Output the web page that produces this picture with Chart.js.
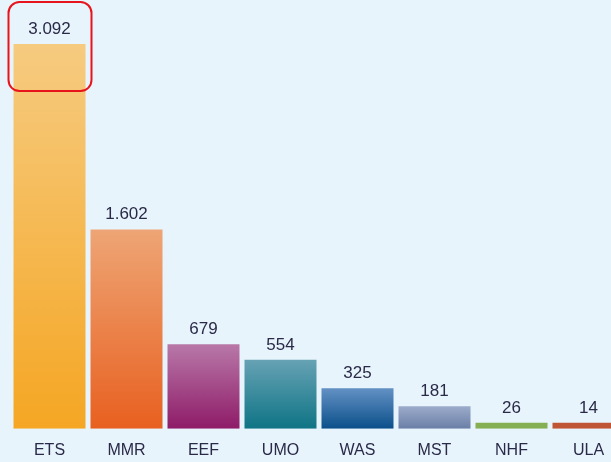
<!DOCTYPE html>
<html>
<head>
<meta charset="utf-8">
<script src="https://cdn.jsdelivr.net/npm/chart.js@4"></script>
<style>
  html, body { margin: 0; padding: 0; background: #E8F4FC; overflow: hidden; height: 462px; }
  #wrap { width: 627px; height: 472px; position: relative; }
</style>
</head>
<body>
<div id="wrap"><canvas id="barChart"></canvas></div>
<script>
const categories = ['ETS', 'MMR', 'EEF', 'UMO', 'WAS', 'MST', 'NHF', 'ULA'];
const values = [3092, 1602, 679, 554, 325, 181, 26, 14];
// top / bottom colours of each bar's gradient
const topColors = ['#F6CB80', '#EEA575', '#B878A8', '#66A2B4', '#6391C4', '#9CABCA', '#98BE68', '#C96A4C'];
const bottomColors = ['#F5A623', '#E86020', '#8E1B68', '#0E7485', '#0A4F8A', '#6A7FA6', '#86AE52', '#BF5535'];

const ctx = document.getElementById('barChart').getContext('2d');

function gradientFor(context) {
    const chart = context.chart;
    const yScale = chart.scales.y;
    const i = context.dataIndex;
    if (!chart.chartArea || !yScale) return bottomColors[i];
    const top = yScale.getPixelForValue(values[i]);
    const base = yScale.getPixelForValue(0);
    if (!isFinite(top) || !isFinite(base) || base - top < 10) return bottomColors[i];
    const g = chart.ctx.createLinearGradient(0, top, 0, base);
    g.addColorStop(0, topColors[i]);
    g.addColorStop(1, bottomColors[i]);
    return g;
}

// value labels above the bars + red highlight box around the first one
const valueLabels = {
    id: 'valueLabels',
    afterDatasetsDraw(chart) {
        const c = chart.ctx;
        const meta = chart.getDatasetMeta(0);
        c.save();
        c.font = '17px "Liberation Sans", Arial, sans-serif';
        c.fillStyle = '#2A2A48';
        c.textAlign = 'center';
        c.textBaseline = 'alphabetic';
        meta.data.forEach((bar, i) => {
            c.fillText(values[i].toLocaleString('de-DE'), bar.x, bar.y - 10);
        });
        // highlight box
        const b = meta.data[0];
        const x0 = b.x - b.width / 2 - 5, x1 = b.x + b.width / 2 + 6;
        const y0 = b.y - 42, y1 = b.y + 47;
        c.strokeStyle = '#E8141C';
        c.lineWidth = 2;
        c.beginPath();
        c.roundRect(x0, y0, x1 - x0, y1 - y0, 11);
        c.stroke();
        c.restore();
    }
};

new Chart(ctx, {
    type: 'bar',
    data: {
        labels: categories,
        datasets: [{
            data: values,
            backgroundColor: gradientFor,
            borderWidth: 0,
            minBarLength: 6,
            categoryPercentage: 1,
            barPercentage: 0.935
        }]
    },
    options: {
        responsive: true,
        maintainAspectRatio: false,
        animation: false,
        layout: { padding: { left: 11, right: 0, top: 4, bottom: 0 } },
        plugins: {
            legend: { display: false },
            tooltip: { enabled: false }
        },
        scales: {
            x: {
                grid: { display: false, drawTicks: false },
                border: { display: false },
                ticks: {
                    color: '#2A2A48',
                    font: { size: 16, family: '"Liberation Sans", Arial, sans-serif' },
                    padding: 12
                }
            },
            y: {
                display: false,
                min: 0,
                max: 3414
            }
        }
    },
    plugins: [valueLabels]
});
</script>
</body>
</html>
